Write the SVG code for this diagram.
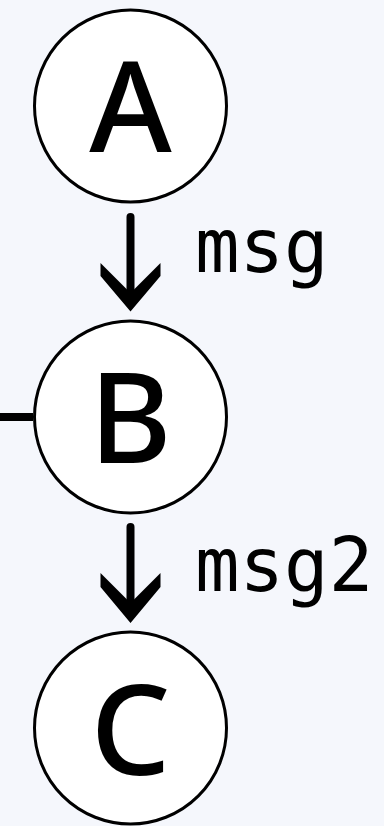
<svg xmlns="http://www.w3.org/2000/svg" width="384" height="826" viewBox="0 0 384 826">
  <defs>
    <style>
      .node circle { fill: #ffffff; stroke: #000000; stroke-width: 3; }
      .node text { font-family: "Noto Sans", "Open Sans", sans-serif; font-size: 126px; font-weight: 500; fill: #000000; text-anchor: middle; }
      .edge line { stroke: #000000; stroke-width: 8; stroke-linecap: round; }
      .edge polygon { fill: #000000; }
      .label { font-family: "DejaVu Sans Mono", "Liberation Mono", monospace; font-size: 74px; fill: #000000; }
    </style>
  </defs>
  <rect width="384" height="826" fill="#f5f7fc"/>

  <g id="connectors">
    <g class="edge" id="edge-in-B">
      <line x1="-10" y1="417" x2="33" y2="417" style="stroke-linecap:butt"/>
    </g>
    <g class="edge" id="edge-A-B">
      <line x1="130.5" y1="217" x2="130.5" y2="290"/>
      <polygon points="100.5,263 130.5,293 160.5,263 160.5,276 130.5,311.5 100.5,276"/>
      <text class="label" x="195" y="272">msg</text>
    </g>
    <g class="edge" id="edge-B-C">
      <line x1="130.5" y1="527" x2="130.5" y2="600"/>
      <polygon points="100.5,573 130.5,603 160.5,573 160.5,587 130.5,623 100.5,587"/>
      <text class="label" x="195" y="591">msg2</text>
    </g>
  </g>

  <g class="node" id="node-A">
    <circle cx="130.5" cy="106" r="96"/>
    <text x="130.5" y="152">A</text>
  </g>
  <g class="node" id="node-B">
    <circle cx="130.5" cy="417" r="96"/>
    <text x="130.5" y="463">B</text>
  </g>
  <g class="node" id="node-C">
    <circle cx="130.5" cy="728" r="96"/>
    <text x="130.5" y="775">C</text>
  </g>
</svg>
